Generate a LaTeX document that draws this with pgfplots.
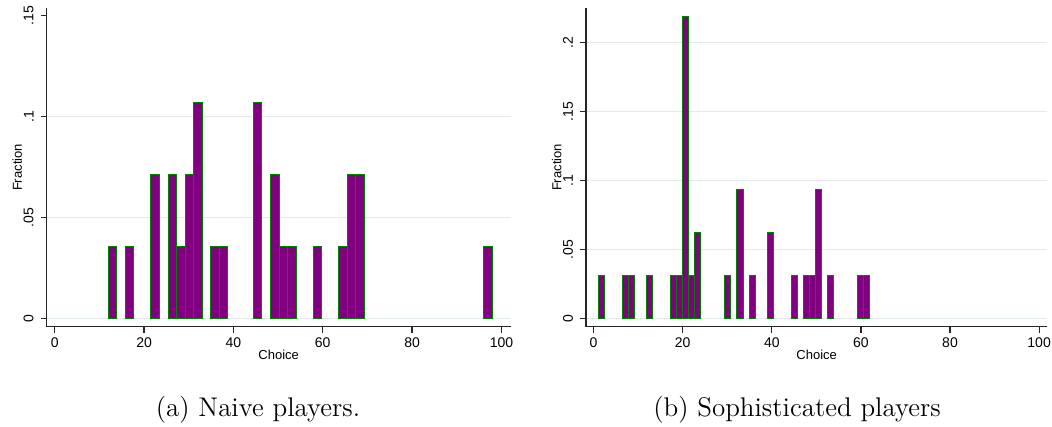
\documentclass[border=0pt]{standalone}
\usepackage{pgfplots}
\pgfplotsset{compat=1.18}
\usepackage{fontspec}
\newfontfamily\arial{Liberation Sans}
\definecolor{barfill}{RGB}{128,0,128}
\definecolor{barline}{RGB}{0,128,0}
\definecolor{gridc}{RGB}{226,234,238}
\pgfplotsset{
  stata/.style={
    scale only axis,
    axis x line*=bottom, axis y line*=left,
    axis line style={black!85, line width=0.6pt},
    tick align=outside,
    major tick style={black!85, line width=0.6pt},
    major tick length=3pt,
    xtick={0,20,40,60,80,100},
    xticklabels={0,20,40,60,80,100},
    ymajorgrids, grid style={gridc, line width=0.6pt},
    tick label style={font=\arial\fontsize{7}{8}\selectfont},
    /pgf/number format/assume math mode=true,
    xticklabel style={yshift=1pt},
    yticklabel style={rotate=90, anchor=south},
    xlabel={Choice}, ylabel={Fraction},
    every axis x label/.style={at={(axis description cs:0.5,0)}, anchor=center,
      yshift=-14.2pt, font=\arial\fontsize{6.5}{8}\selectfont},
    every axis y label/.style={at={(axis description cs:0,0.5)}, anchor=center,
      xshift=-14.7pt, rotate=90, font=\arial\fontsize{6.5}{8}\selectfont},
    ybar, bar shift=0pt,
  },
  bars/.style={fill=barfill, draw=barline, line width=0.5pt},
}
\begin{document}
\begin{tikzpicture}
\path[use as bounding box] (0,0) rectangle (526pt,213.5pt);
% (a) Naive players
\begin{axis}[stata, at={(23.35pt,50.15pt)}, anchor=south west,
  width=231.95pt, height=159.2pt,
  xmin=-1.79, xmax=102.05, ymin=-0.0042, ymax=0.1537,
  ytick={0,0.05,0.1}, yticklabels={0,.05,.1},
  extra y ticks={0.15}, extra y tick labels={.15},
  extra y tick style={grid=none},
  bar width=1.9111]
\addplot[bars] coordinates {
(12.956,0.0357) (16.778,0.0357) (22.511,0.0714) (26.333,0.0714)
(28.244,0.0357) (30.156,0.0714) (32.067,0.1071) (35.889,0.0357)
(37.800,0.0357) (45.444,0.1071) (49.267,0.0714) (51.178,0.0357)
(53.089,0.0357) (58.822,0.0357) (64.556,0.0357) (66.467,0.0714)
(68.378,0.0714) (97.044,0.0357)
};
\end{axis}
% (b) Sophisticated players
\begin{axis}[stata, at={(293pt,50.15pt)}, anchor=south west,
  width=230.7pt, height=159.2pt,
  xmin=-1.71, xmax=101.86, ymin=-0.0061, ymax=0.225,
  ytick={0,0.05,0.1,0.15,0.2}, yticklabels={0,.05,.1,.15,.2},
  bar width=1.35556]
\addplot[bars] coordinates {
(1.678,0.03125) (7.100,0.03125) (8.456,0.03125) (12.522,0.03125)
(17.944,0.03125) (19.300,0.03125) (20.656,0.21875) (22.011,0.03125)
(23.367,0.0625) (30.144,0.03125) (32.856,0.09375) (35.567,0.03125)
(39.633,0.0625) (45.056,0.03125) (47.767,0.03125) (49.122,0.03125)
(50.478,0.09375) (53.189,0.03125) (59.967,0.03125) (61.322,0.03125)
};
\end{axis}
\node[font=\fontsize{13.5}{16}\selectfont] at (129pt,8.5pt) {(a)~Naive players.};
\node[font=\fontsize{13.5}{16}\selectfont] at (398.5pt,8.5pt) {(b)~Sophisticated players};
\end{tikzpicture}
\end{document}
